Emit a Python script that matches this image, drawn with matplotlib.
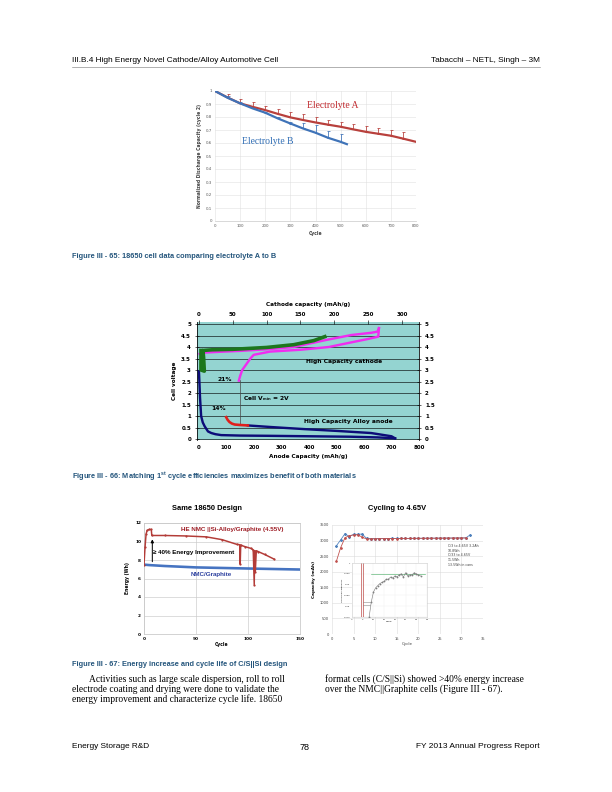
import numpy as np
import matplotlib
matplotlib.use("Agg")
import matplotlib.pyplot as plt
from matplotlib import font_manager
from matplotlib.lines import Line2D

# page geometry in pixels; 72 dpi so that 1 pt == 1 px
W, H = 612, 792

_installed = {f.name for f in font_manager.fontManager.ttflist}
NARROW = "Liberation Sans Narrow" if "Liberation Sans Narrow" in _installed else "Liberation Sans"
SANS = "Liberation Sans"
SERIF = "Liberation Serif"
plt.rcParams["mathtext.fontset"] = "custom"
plt.rcParams["mathtext.rm"] = SANS
plt.rcParams["mathtext.bf"] = SANS + ":bold"

CAPTION_BLUE = "#24557c"

# ---- page text ----
HEADER_LEFT = "III.B.4 High Energy Novel Cathode/Alloy Automotive Cell"
HEADER_RIGHT = "Tabacchi \u2013 NETL, Singh \u2013 3M"
FOOTER_LEFT = "Energy Storage R&D"
FOOTER_MID = "78"
FOOTER_RIGHT = "FY 2013 Annual Progress Report"
CAPTION_65 = "Figure III - 65: 18650 cell data comparing electrolyte A to B"
CAPTION_66 = r"Figure III - 66: Matching 1$^{\mathbf{st}}$ cycle efficiencies maximizes benefit of both materials"
CAPTION_67 = "Figure III - 67: Energy increase and cycle life of C/S||Si design"
BODY_LEFT = [
    "Activities such as large scale dispersion, roll to roll",
    "electrode coating and drying were done to validate the",
    "energy improvement and characterize cycle life. 18650",
]
BODY_RIGHT = [
    "format cells (C/S||Si) showed >40% energy increase",
    "over the NMC||Graphite cells (Figure III - 67).",
]

# ---- Figure III-65: normalized capacity vs cycle ----
ELEC_CYCLES_A = [0, 50, 100, 150, 200, 250, 300, 350, 400, 450, 500, 550, 600, 650, 700, 750, 800]
ELEC_CAP_A = [1.0, 0.95, 0.905, 0.878, 0.853, 0.824, 0.797, 0.777, 0.758, 0.741, 0.725,
              0.705, 0.686, 0.671, 0.656, 0.633, 0.609]
ERR_CYCLES_A = [50, 100, 150, 200, 250, 300, 350, 400, 450, 500, 550, 600, 650, 700, 750]
ERR_TOP_A = [0.974, 0.938, 0.913, 0.887, 0.861, 0.841, 0.82, 0.797, 0.776, 0.758,
             0.743, 0.73, 0.712, 0.699, 0.686]
ELEC_CYCLES_B = [0, 50, 100, 150, 200, 250, 300, 350, 400, 450, 500, 525]
ELEC_CAP_B = [1.0, 0.948, 0.905, 0.866, 0.833, 0.789, 0.75, 0.712, 0.679, 0.64, 0.609, 0.591]
ERR_CYCLES_B = [50, 100, 150, 200, 250, 300, 350, 400, 450, 500]
ERR_TOP_B = [0.958, 0.915, 0.872, 0.842, 0.8, 0.765, 0.755, 0.735, 0.69, 0.67]

# ---- Figure III-66: voltage profiles ----
ANODE_LI_X = [0, 2, 4, 8, 14, 21, 33, 45, 60, 81, 150, 250, 400, 550, 650, 713]
ANODE_LI_V = [2.95, 2.4, 1.8, 1.0, 0.72, 0.55, 0.33, 0.26, 0.21, 0.17, 0.15, 0.14, 0.12, 0.1, 0.07, 0.03]
ANODE_DE_X = [713, 700, 626, 505, 384, 263, 178]
ANODE_DE_V = [0.03, 0.12, 0.26, 0.35, 0.43, 0.52, 0.59]
ANODE_LOSS_X = [99, 104, 111, 120, 130, 150, 178]
ANODE_LOSS_V = [0.95, 0.84, 0.74, 0.67, 0.63, 0.61, 0.59]
CATH_CH_X = [1, 3, 10, 30, 60, 100, 140, 187, 225, 255, 264, 266]
CATH_CH_V = [3.7, 3.73, 3.76, 3.79, 3.83, 3.9, 4.0, 4.3, 4.52, 4.62, 4.67, 4.82]
CATH_DIS_X = [266, 265, 250, 225, 192, 150, 105, 81, 76, 70, 64, 61, 59]
CATH_DIS_V = [4.82, 4.45, 4.35, 4.2, 4.0, 3.88, 3.8, 3.66, 3.5, 3.25, 3.0, 2.75, 2.54]
MATCH_X = [3, 3, 8, 7, 6, 20, 50, 100, 140, 170, 186]
MATCH_V = [3.85, 3.0, 2.95, 3.5, 3.85, 3.88, 3.9, 3.98, 4.1, 4.28, 4.45]
CONNECT_X = [148, 148]
CONNECT_V = [0.6, 2.55]
CATHODE_PER_ANODE = 300 / 738

# ---- Figure III-67 left: energy vs cycle ----
HE_CYCLE = [0, 1, 2, 3, 5, 7, 7.5, 20, 40, 60, 75, 89, 92, 92.5, 93, 97, 103, 105,
            106, 106.5, 107, 108, 110, 116, 125]
HE_ENERGY = [7.5, 9.4, 10.8, 11.2, 11.3, 11.3, 10.65, 10.65, 10.6, 10.5, 10.2, 9.7, 9.65,
             7.55, 9.6, 9.45, 9.25, 9.1, 5.35, 9.0, 6.7, 9.0, 8.9, 8.6, 8.1]
NMC_CYCLE = [0, 5, 20, 50, 100, 150]
NMC_ENERGY = [7.5, 7.45, 7.35, 7.2, 7.08, 6.97]
ARROW_CYCLE = 8
ARROW_FROM, ARROW_TO = 7.6, 10.45

# ---- Figure III-67 right: capacity vs cycle, inset coulombic efficiency ----
CAP_CYCLE_BLUE = np.arange(1, 33)
CAP_BLUE = [2830, 3020, 3220, 3130, 3200, 3200, 3210, 3070, 3060, 3062, 3064, 3065, 3066,
            3067, 3068, 3069, 3070, 3071, 3072, 3073, 3074, 3075, 3076, 3077, 3078, 3079,
            3080, 3081, 3082, 3083, 3085, 3180]
CAP_CYCLE_RED = np.arange(1, 32)
CAP_RED = [2330, 2770, 3090, 3160, 3180, 3185, 3110, 3050, 3055, 3058, 3060, 3062, 3064,
           3065, 3066, 3068, 3069, 3070, 3072, 3073, 3074, 3075, 3076, 3077, 3078, 3079,
           3080, 3081, 3082, 3083, 3085]
CAP_NOTE = "C/3 to 4.65V 3.2Ah\n10.8Wh\nC/33 to 4.65V\n11.5Wh\n13.5Wh in cans"
CE_CYCLE = np.arange(8, 33)
CE = [0.975, 0.982, 0.9865, 0.9885, 0.9895, 0.9905, 0.991, 0.9915, 0.9925, 0.9925, 0.9935,
      0.993, 0.994, 0.9935, 0.9945, 0.995, 0.9935, 0.9955, 0.994, 0.9945, 0.9945, 0.9955,
      0.995, 0.9945, 0.994]
CE_FORMATION_CYCLES = [4, 5]
CE_EARLY_X = [5, 8.5]
CE_EARLY = [0.9818, 0.9805]
CE_TARGET = 0.995


fig = plt.figure(figsize=(W / 72, H / 72), dpi=72)
renderer = fig.canvas.get_renderer()


def box(x0, y0, x1, y1):
    """Axes rectangle from page pixel corners (y measured from the top)."""
    return [x0 / W, 1 - y1 / H, (x1 - x0) / W, (y1 - y0) / H]


def page_text(x, y, s, width=None, size=8, **kw):
    kw.setdefault("va", "center")
    t = fig.text(x / W, 1 - y / H, s, fontsize=size, **kw)
    if width:
        bb = t.get_window_extent(renderer=renderer)
        t.set_fontsize(size * width / bb.width)
    return t


# header / footer
page_text(72, 60, HEADER_LEFT, width=206, family=NARROW)
page_text(540, 60, HEADER_RIGHT, width=109, family=NARROW, ha="right")
fig.add_artist(Line2D([72 / W, 540 / W], [1 - 67 / H] * 2, color="#808080", lw=0.6))
page_text(72, 747, FOOTER_LEFT, width=77, family=NARROW)
page_text(305, 747, FOOTER_MID, size=9, family=NARROW, ha="center")
page_text(540, 747, FOOTER_RIGHT, width=123, family=NARROW, ha="right")

# captions
for y, cap, width in [(256, CAPTION_65, 205), (477, CAPTION_66, 283), (665, CAPTION_67, 216)]:
    page_text(72, y, cap, width=width, family=NARROW, weight="bold", color=CAPTION_BLUE)

# body text
t = page_text(72, 689, BODY_LEFT[1], width=207, family=SERIF)
body_size = t.get_fontsize()
page_text(89, 679, BODY_LEFT[0], size=body_size, family=SERIF)
page_text(72, 699, BODY_LEFT[2], size=body_size, family=SERIF)
page_text(325, 679, BODY_RIGHT[0], size=body_size, family=SERIF)
page_text(325, 689, BODY_RIGHT[1], size=body_size, family=SERIF)

# ---------------- Figure III-65 ----------------
RED1, BLUE1 = "#b8403c", "#3f73b8"
ax1 = fig.add_axes(box(215, 91, 416, 221))
ax1.plot(ELEC_CYCLES_A, ELEC_CAP_A, color=RED1, lw=2.2, zorder=3)
base_a = np.interp(ERR_CYCLES_A, ELEC_CYCLES_A, ELEC_CAP_A)
ax1.errorbar(ERR_CYCLES_A, base_a, yerr=[np.zeros_like(base_a), np.array(ERR_TOP_A) - base_a],
             fmt="none", ecolor=RED1, elinewidth=0.8, capsize=1.5, capthick=0.8, zorder=3)
ax1.plot(ELEC_CYCLES_B, ELEC_CAP_B, color=BLUE1, lw=2.2, zorder=4)
base_b = np.interp(ERR_CYCLES_B, ELEC_CYCLES_B, ELEC_CAP_B)
ax1.errorbar(ERR_CYCLES_B, base_b, yerr=[np.zeros_like(base_b), np.array(ERR_TOP_B) - base_b],
             fmt="none", ecolor=BLUE1, elinewidth=0.8, capsize=1.5, capthick=0.8, zorder=4)
ax1.set_xlim(0, 800)
ax1.set_ylim(0, 1)
ax1.set_xticks(range(0, 801, 100))
yt = np.round(np.arange(0, 1.01, 0.1), 1)
ax1.set_yticks(yt, [f"{v:g}" for v in yt])
ax1.tick_params(length=0, labelsize=4, labelcolor="#595959", pad=3)
ax1.grid(color="#dedede", lw=0.5)
ax1.set_axisbelow(True)
for s in ax1.spines.values():
    s.set_visible(False)
ax1.spines["bottom"].set_visible(True)
ax1.spines["bottom"].set_color("#d0d0d0")
ax1.set_xlabel("Cycle", fontsize=4.5, weight="bold", color="#404040", labelpad=3)
ax1.set_ylabel("Normalized Discharge Capacity (cycle 2)", fontsize=4.5, weight="bold",
               color="#404040", labelpad=4)
ax1.text(470, 0.892, "Electrolyte A", family=SERIF, fontsize=9.6, color="#c0282d", ha="center", va="center")
ax1.text(209, 0.615, "Electrolyte B", family=SERIF, fontsize=9.6, color="#2f6db5", ha="center", va="center")

# ---------------- Figure III-66 ----------------
ax2 = fig.add_axes(box(197, 321.7, 419, 440.4))
ax2.set_facecolor("#94d4d1")
ax2.set_xlim(-7, 800)
ax2.set_ylim(-0.06, 5.1)
vt = np.round(np.arange(0, 5.01, 0.5), 1)
ax2.set_yticks(vt, [f"{v:g}" for v in vt])
ax2.yaxis.grid(True, color="black", lw=0.6)
ax2.set_xticks(range(0, 801, 100))
ax2.tick_params(axis="x", length=0, labelsize=5.5, pad=5)
ax2.tick_params(axis="y", direction="inout", length=4, width=0.6, labelsize=5.5, pad=4,
                left=True, right=True, labelleft=True, labelright=True)
for lab in ax2.get_xticklabels() + ax2.get_yticklabels():
    lab.set_fontweight("bold")
for side in ["top", "bottom"]:
    ax2.spines[side].set_visible(False)
for side in ["left", "right"]:
    ax2.spines[side].set_linewidth(0.8)
ax2.set_xlabel("Anode Capacity (mAh/g)", fontsize=5.8, weight="bold", labelpad=4)
ax2.set_ylabel("Cell voltage", fontsize=5.8, weight="bold", labelpad=4)

ax2.plot(ANODE_LI_X, ANODE_LI_V, color="#0c0c78", lw=2.4, zorder=3)
ax2.plot(ANODE_DE_X, ANODE_DE_V, color="#0c0c78", lw=2.4, zorder=3)
ax2.plot(ANODE_LOSS_X, ANODE_LOSS_V, color="#e0201c", lw=2.6, zorder=4)
ax2.plot(CONNECT_X, CONNECT_V, color="#4a4a4a", lw=0.7, zorder=2)

axc = ax2.twiny()
axc.set_xlim(-7 * CATHODE_PER_ANODE, 800 * CATHODE_PER_ANODE)
axc.set_xticks(range(0, 301, 50))
axc.tick_params(axis="x", direction="inout", length=4, width=0.6, labelsize=5.5, pad=3)
for lab in axc.get_xticklabels():
    lab.set_fontweight("bold")
for side in ["top", "bottom", "left", "right"]:
    axc.spines[side].set_visible(False)
axc.set_xlabel("Cathode capacity (mAh/g)", fontsize=5.8, weight="bold", labelpad=6)
axc.plot(CATH_CH_X, CATH_CH_V, color="#f02cf0", lw=2.4, zorder=3)
axc.plot(CATH_DIS_X, CATH_DIS_V, color="#f02cf0", lw=2.4, zorder=3)
axc.plot(MATCH_X, MATCH_V, color="#1c761c", lw=3.6, zorder=4)

txt = dict(fontsize=6, weight="bold", va="center", zorder=6)
axc.text(527 * CATHODE_PER_ANODE, 3.35, "High Capacity cathode", ha="center", **txt)
axc.text(542 * CATHODE_PER_ANODE, 0.74, "High Capacity Alloy anode", ha="center", **txt)
axc.text(160 * CATHODE_PER_ANODE, 1.74, r"Cell V$_{\mathbf{min}}$ = 2V", ha="left", **txt)
axc.text(69 * CATHODE_PER_ANODE, 2.57, "21%", ha="left", **txt)
axc.text(44 * CATHODE_PER_ANODE, 1.34, "14%", ha="left", **txt)

# ---------------- Figure III-67 left ----------------
ax3 = fig.add_axes(box(144, 523, 300, 634))
ax3.plot(NMC_CYCLE, NMC_ENERGY, color="#4674c1", lw=2.6, zorder=3)
ax3.plot(HE_CYCLE, HE_ENERGY, color="#b33c38", lw=1.5, marker="o", ms=1.2, zorder=4)
ax3.annotate("", xy=(ARROW_CYCLE, ARROW_TO), xytext=(ARROW_CYCLE, ARROW_FROM),
             arrowprops=dict(arrowstyle="-|>", color="black", lw=1.0, mutation_scale=6), zorder=5)
ax3.set_xlim(0, 150)
ax3.set_ylim(0, 12)
ax3.set_xticks([0, 50, 100, 150])
ax3.set_yticks(range(0, 13, 2))
ax3.tick_params(length=0, labelsize=4.2, pad=3)
for lab in ax3.get_xticklabels() + ax3.get_yticklabels():
    lab.set_fontweight("bold")
ax3.grid(color="#c8c8c8", lw=0.6)
ax3.set_axisbelow(True)
for s in ax3.spines.values():
    s.set_color("#c8c8c8")
ax3.set_xlabel("Cycle", fontsize=4.5, weight="bold", labelpad=1)
ax3.set_ylabel("Energy (Wh)", fontsize=4.5, weight="bold", labelpad=5)
ax3.text(84.6, 11.25, "HE NMC ||Si-Alloy/Graphite (4.55V)", family=NARROW, fontsize=6.2,
         weight="bold", color="#9e1c24", ha="center", va="center", zorder=6)
ax3.text(65, 6.4, "NMC/Graphite", family=NARROW, fontsize=6.2, weight="bold",
         color="#2b3f9e", ha="center", va="center", zorder=6)
ax3.text(8.7, 8.86, "\u2265 40% Energy Improvement", family=NARROW, fontsize=6.2,
         weight="bold", ha="left", va="center", zorder=6)
page_text(207, 509, "Same 18650 Design", size=7.5, family=NARROW, weight="bold", ha="center")

# ---------------- Figure III-67 right ----------------
ax4 = fig.add_axes(box(332, 525, 483, 634))
ax4.plot(CAP_CYCLE_BLUE, CAP_BLUE, color="#4f81bd", lw=0.8, marker="D", ms=1.6, zorder=3)
ax4.plot(CAP_CYCLE_RED, CAP_RED, color="#c0504d", lw=0.8, marker="o", ms=1.6, zorder=4)
ax4.set_xlim(0, 35)
ax4.set_ylim(0, 3500)
ax4.set_xticks(range(0, 36, 5))
ax4.set_yticks(range(0, 3501, 500))
ax4.tick_params(length=0, labelsize=3.6, labelcolor="#404040", pad=3)
ax4.grid(color="#d9d9d9", lw=0.5)
ax4.set_axisbelow(True)
for s in ax4.spines.values():
    s.set_visible(False)
ax4.set_xlabel("Cycle", fontsize=4, color="#404040", labelpad=1)
ax4.set_ylabel("Capacity (mAh)", fontsize=4.2, weight="bold", labelpad=4)
ax4.text(26.9, 2890, CAP_NOTE, fontsize=3.2, color="#404040", ha="left", va="top", linespacing=1.25)
page_text(397, 509, "Cycling to 4.65V", size=7.5, family=NARROW, weight="bold", ha="center")

ax5 = fig.add_axes(box(352, 563, 427, 617))
ax5.plot(CE_CYCLE, CE, color="#7f7f7f", lw=0.6, marker="o", ms=0.8, zorder=3)
for xc in CE_FORMATION_CYCLES:
    ax5.axvline(xc, color="#c0504d", lw=0.7)
ax5.axhline(CE_TARGET, xmin=9 / 35, xmax=34 / 35, color="#4fb06a", lw=0.6)
for level in CE_EARLY:
    ax5.plot(CE_EARLY_X, [level, level], color="#7f7f7f", lw=0.5)
ax5.set_xlim(0, 35)
ax5.set_ylim(0.975, 1.0)
ax5.set_xticks(range(0, 36, 5))
ce_ticks = np.round(np.arange(0.975, 1.0001, 0.005), 3)
ax5.set_yticks(ce_ticks, [f"{v:g}" for v in ce_ticks])
ax5.tick_params(length=0, labelsize=2.4, labelcolor="#404040", pad=1.5)
ax5.grid(color="#ececec", lw=0.4)
for s in ax5.spines.values():
    s.set_color("#c8c8c8")
    s.set_linewidth(0.5)
ax5.set_xlabel("Cycle", fontsize=2.4, labelpad=1)
ax5.set_ylabel("Coulombic Efficiency", fontsize=2.2, labelpad=1)

fig.savefig("out.png", dpi=72)
